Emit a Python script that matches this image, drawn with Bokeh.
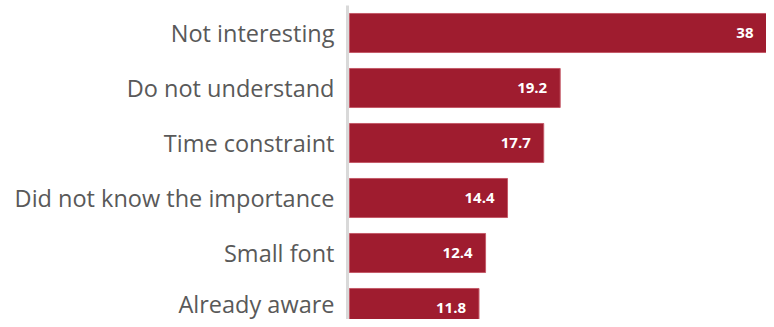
from bokeh.plotting import figure
from bokeh.models import Range1d, ColumnDataSource, FixedTicker
from bokeh.core.properties import value
from bokeh.embed import file_html
from bokeh.resources import INLINE

categories = ["Not interesting", "Do not understand", "Time constraint",
              "Did not know the importance", "Small font", "Already aware"]
values = [38, 19.2, 17.7, 14.4, 12.4, 11.8]
value_labels = ["38", "19.2", "17.7", "14.4", "12.4", "11.8"]

pos = list(range(len(categories)))
src = ColumnDataSource(dict(y=pos, x=values, lab=value_labels))

p = figure(width=766, height=319, output_backend="svg", toolbar_location=None,
           x_range=Range1d(-0.182, 38.0), y_range=Range1d(5.209, -0.5),
           min_border_left=347, min_border_right=0, min_border_top=5, min_border_bottom=0)
p.outline_line_color = None
p.background_fill_color = "white"
p.border_fill_color = "white"
p.xgrid.visible = False
p.ygrid.visible = False
p.xaxis.visible = False

p.hbar(y="y", left=0, right="x", height=0.71, source=src,
       fill_color="#9F1C2F", line_color="#C45A68", line_width=1)

p.text(x="x", y="y", text="lab", source=src, x_offset=-13,
       text_align="right", text_baseline="middle",
       text_color="white", text_font=value("Open Sans"),
       text_font_style="bold", text_font_size="15px")

ax = p.yaxis[0]
ax.ticker = FixedTicker(ticks=pos)
ax.major_label_overrides = {i: c for i, c in zip(pos, categories)}
ax.major_tick_line_color = None
ax.minor_tick_line_color = None
ax.major_tick_out = 0
ax.major_tick_in = 0
ax.axis_line_color = "#D9D9D9"
ax.axis_line_width = 3
ax.major_label_standoff = 13
ax.major_label_text_font = "Open Sans"
ax.major_label_text_font_size = "23.5px"
ax.major_label_text_color = "#595959"

open("out.html", "w").write(file_html(p, INLINE))
